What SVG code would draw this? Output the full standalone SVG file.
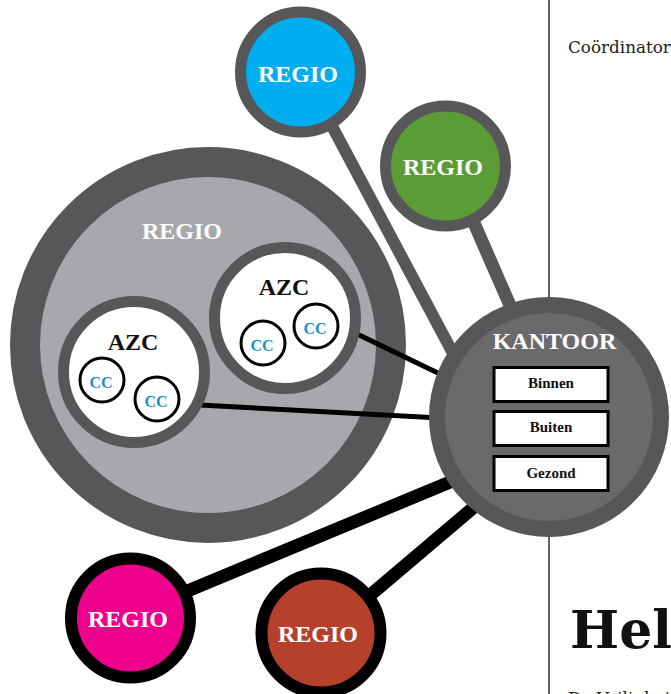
<svg xmlns="http://www.w3.org/2000/svg" width="671" height="694" viewBox="0 0 671 694">
<style>
.lbl{font-family:"Liberation Serif","Times New Roman",serif;font-weight:bold;text-anchor:middle}
.reg{font-size:24px;fill:#ffffff}
.azc{font-size:24px;fill:#111111}
.cc{font-size:16px;fill:#1b8fc8}
.box{font-size:15px;fill:#111111}
.ccc{fill:#ffffff;stroke:#000000;stroke-width:3}
.brect{fill:#ffffff;stroke:#000000;stroke-width:3}
.body{font-family:"DejaVu Serif",serif}
</style>
<rect width="671" height="694" fill="#ffffff"/>
<line x1="549" y1="0" x2="549" y2="694" stroke="#333333" stroke-width="1.5"/>
<text class="body" x="568" y="53" font-size="16.8" fill="#222222">Coördinator</text>
<text class="body" x="570" y="648" font-size="52" font-weight="bold" fill="#111111">Held</text>
<text class="body" x="568" y="704" font-size="16.8" fill="#222222">De Veiligheid</text>

<g id="regio-groot">
<circle cx="208" cy="345" r="183" fill="#a7a8ab" stroke="#575759" stroke-width="30"/>
<text class="lbl reg" x="182" y="239" fill="#f2f2f2">REGIO</text>
</g>

<g id="connectors">
<line x1="333" y1="128" x2="455" y2="357" stroke="#575759" stroke-width="12"/>
<line x1="474" y1="223" x2="512" y2="310" stroke="#575759" stroke-width="13"/>
<line x1="355" y1="333" x2="440" y2="374" stroke="#000000" stroke-width="5"/>
<line x1="200" y1="405" x2="440" y2="418" stroke="#000000" stroke-width="5"/>
<line x1="185" y1="592" x2="455" y2="480" stroke="#000000" stroke-width="13"/>
<line x1="368" y1="597" x2="480" y2="502" stroke="#000000" stroke-width="13"/>
</g>

<g id="azc-links">
<circle cx="134" cy="372" r="70.5" fill="#ffffff" stroke="#575759" stroke-width="11"/>
<text class="lbl azc" x="133" y="350">AZC</text>
<circle class="ccc" cx="102" cy="380" r="22"/>
<text class="lbl cc" x="101" y="388">CC</text>
<circle class="ccc" cx="157" cy="399" r="22"/>
<text class="lbl cc" x="156" y="407">CC</text>
</g>

<g id="azc-rechts">
<circle cx="285" cy="318" r="70.5" fill="#ffffff" stroke="#575759" stroke-width="11"/>
<text class="lbl azc" x="284" y="295">AZC</text>
<circle class="ccc" cx="263" cy="343" r="22"/>
<text class="lbl cc" x="262" y="351">CC</text>
<circle class="ccc" cx="316" cy="326" r="22"/>
<text class="lbl cc" x="315" y="334">CC</text>
</g>

<g id="regio-blauw">
<circle cx="300.5" cy="72" r="60" fill="#00aeef" stroke="#575759" stroke-width="11"/>
<text class="lbl reg" x="298" y="82">REGIO</text>
</g>

<g id="regio-groen">
<circle cx="445.5" cy="166" r="60" fill="#5b9c36" stroke="#575759" stroke-width="11"/>
<text class="lbl reg" x="443" y="175">REGIO</text>
</g>

<g id="regio-roze">
<circle cx="130.5" cy="618" r="59.5" fill="#ec008c" stroke="#000000" stroke-width="12"/>
<text class="lbl reg" x="128" y="627">REGIO</text>
</g>

<g id="regio-bruin">
<circle cx="321" cy="633" r="59.5" fill="#b5412d" stroke="#000000" stroke-width="12"/>
<text class="lbl reg" x="318" y="642">REGIO</text>
</g>

<g id="kantoor">
<circle cx="549" cy="417" r="112" fill="#6a6a6d" stroke="#575759" stroke-width="16"/>
<text class="lbl reg" x="554.5" y="349">KANTOOR</text>
<rect class="brect" x="494" y="367.5" width="114" height="34"/>
<text class="lbl box" x="551" y="388">Binnen</text>
<rect class="brect" x="494" y="411.5" width="114" height="34"/>
<text class="lbl box" x="551" y="432">Buiten</text>
<rect class="brect" x="494" y="456.5" width="114" height="34"/>
<text class="lbl box" x="551" y="478">Gezond</text>
</g>
</svg>
